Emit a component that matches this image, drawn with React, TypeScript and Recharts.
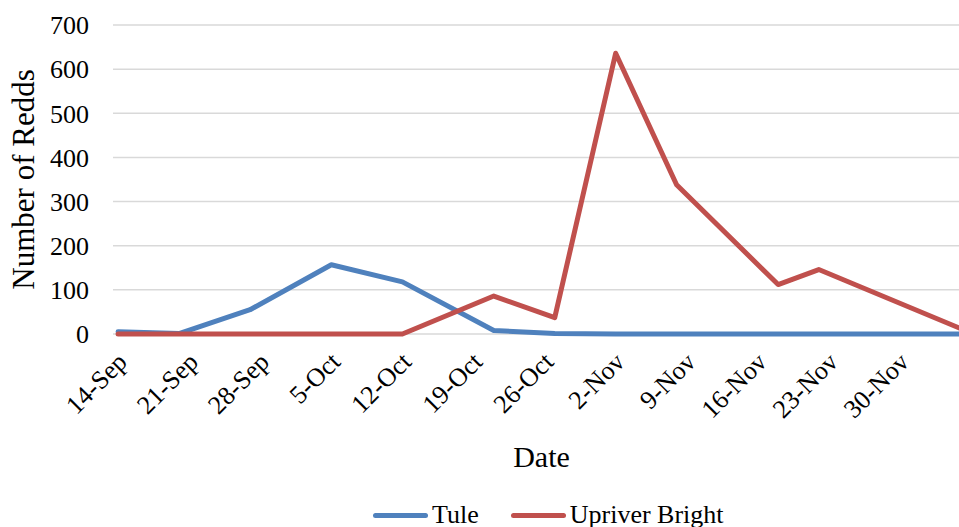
import React from 'react';
import { LineChart, Line, XAxis, YAxis, CartesianGrid, Label } from 'recharts';

// survey dates and redd counts per run
const dates = [
  '2014-09-14', '2014-09-20', '2014-09-27', '2014-10-05', '2014-10-12', '2014-10-21',
  '2014-10-27', '2014-11-02', '2014-11-08', '2014-11-18', '2014-11-22', '2014-12-06',
];
const tule = [5, 1, 55, 157, 118, 8, 1, 0, 0, 0, 0, 0];
const upriverBright = [0, 0, 0, 0, 0, 86, 37, 636, 338, 112, 146, 12];

const tickDates = [
  '2014-09-14', '2014-09-21', '2014-09-28', '2014-10-05', '2014-10-12', '2014-10-19',
  '2014-10-26', '2014-11-02', '2014-11-09', '2014-11-16', '2014-11-23', '2014-11-30',
];
const tickLabels = ['14-Sep', '21-Sep', '28-Sep', '5-Oct', '12-Oct', '19-Oct', '26-Oct', '2-Nov', '9-Nov', '16-Nov', '23-Nov', '30-Nov'];
const yTicks = [0, 100, 200, 300, 400, 500, 600, 700];

const seriesNames = ['Tule', 'Upriver Bright'];
const colors = ['#4F81BD', '#C0504D'];

const DAY = 86400000;
const toDay = (s: string) => {
  const [y, m, d] = s.split('-').map(Number);
  return Date.UTC(y, m - 1, d) / DAY;
};

const data = dates.map((d, i) => ({ day: toDay(d), tule: tule[i], upriver: upriverBright[i] }));
const ticks = tickDates.map(toDay);
const first = toDay(dates[0]);
const last = toDay(dates[dates.length - 1]);

const font = "'Times New Roman', 'Liberation Serif', Tinos, 'DejaVu Serif', serif";

const DateTick = (props: any) => {
  const { x, y, payload } = props;
  const idx = ticks.indexOf(payload.value);
  return (
    <g transform={`translate(${x + 4},${y - 7})`}>
      <text
        x={0}
        y={0}
        dy="0.35em"
        textAnchor="end"
        transform="rotate(-45)"
        style={{ fontFamily: font, fontSize: 26 }}
        fill="#000"
      >
        {tickLabels[idx]}
      </text>
    </g>
  );
};

export default function App() {
  return (
    <div style={{ position: 'absolute', left: 0, top: 0, width: 959, height: 527, overflow: 'hidden', background: '#fff', fontFamily: font }}>
      <LineChart width={966} height={527} data={data} margin={{ top: 25, right: 0, bottom: 0, left: 0 }} style={{ fontFamily: font }}>
        <CartesianGrid vertical={false} stroke="#D9D9D9" strokeWidth={1.5} />
        <XAxis
          dataKey="day"
          type="number"
          domain={[first - 0.5, last + 0.5]}
          ticks={ticks}
          interval={0}
          height={193}
          axisLine={false}
          tickLine={false}
          tickSize={0}
          tickMargin={30}
          tick={<DateTick />}
        >
          <Label
            content={(p: any) => {
              const vb = p.viewBox;
              return (
                <text x={vb.x + vb.width / 2 + 2} y={467} textAnchor="middle" style={{ fontFamily: font, fontSize: 30 }} fill="#000">
                  Date
                </text>
              );
            }}
          />
        </XAxis>
        <YAxis
          domain={[0, 700]}
          ticks={yTicks}
          width={113}
          axisLine={false}
          tickLine={false}
          tickSize={0}
          tickMargin={24}
          tick={{ style: { fontFamily: font, fontSize: 26 }, fill: '#000' }}
        >
          <Label
            content={(p: any) => {
              const vb = p.viewBox;
              const cy = vb.y + vb.height / 2;
              return (
                <text x={34} y={cy} transform={`rotate(-90, 34, ${cy})`} textAnchor="middle" style={{ fontFamily: font, fontSize: 31 }} fill="#000">
                  Number of Redds
                </text>
              );
            }}
          />
        </YAxis>
        <Line
          type="linear"
          dataKey="tule"
          name={seriesNames[0]}
          stroke={colors[0]}
          strokeWidth={5}
          strokeLinejoin="round"
          strokeLinecap="round"
          dot={false}
          isAnimationActive={false}
        />
        <Line
          type="linear"
          dataKey="upriver"
          name={seriesNames[1]}
          stroke={colors[1]}
          strokeWidth={5}
          strokeLinejoin="round"
          strokeLinecap="round"
          dot={false}
          isAnimationActive={false}
        />
      </LineChart>
      <div
        style={{
          position: 'absolute',
          left: 373,
          top: 499,
          display: 'flex',
          alignItems: 'center',
          fontFamily: font,
          fontSize: 26,
          lineHeight: '32px',
          color: '#000',
          whiteSpace: 'nowrap',
        }}
      >
        {seriesNames.map((name, i) => (
          <div key={name} style={{ display: 'flex', alignItems: 'center', marginRight: i === 0 ? 32 : 0 }}>
            <span style={{ display: 'inline-block', width: 55, height: 5, borderRadius: 3, background: colors[i], marginRight: 4 }} />
            <span>{name}</span>
          </div>
        ))}
      </div>
    </div>
  );
}
